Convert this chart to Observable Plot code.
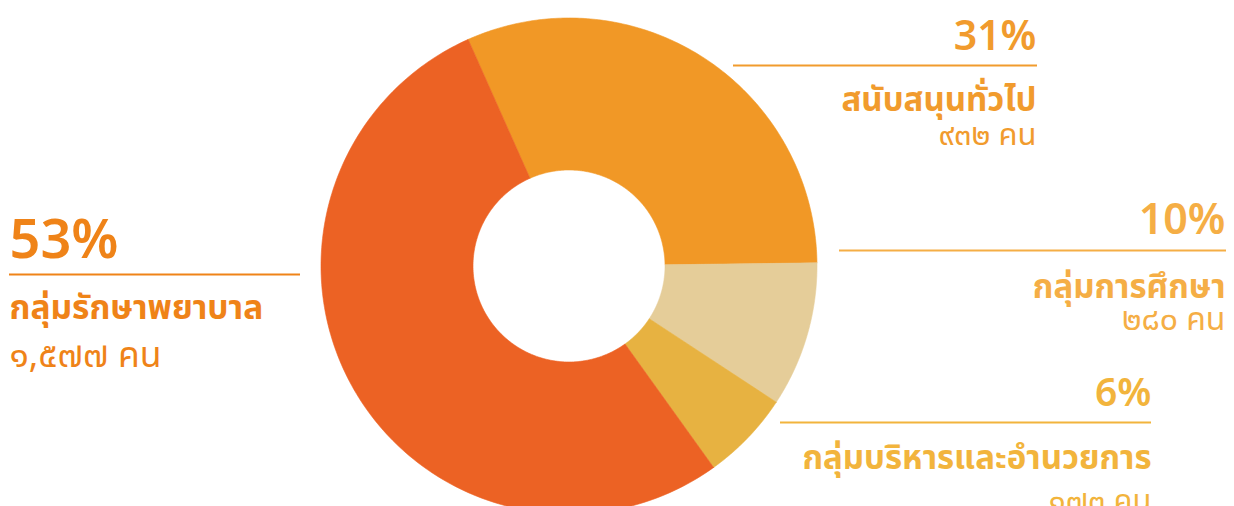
<!DOCTYPE html>
<html>
<head>
<meta charset="utf-8">
<script src="https://cdn.jsdelivr.net/npm/d3@7"></script>
<script src="https://cdn.jsdelivr.net/npm/@observablehq/plot@0.6"></script>
<style>
  html, body { margin: 0; padding: 0; background: #fff; }
  #chart svg { display: block; font-family: "Noto Sans Thai", "Noto Sans", "DejaVu Sans", sans-serif; }
</style>
</head>
<body>
<div id="chart"></div>
<script>
// ---- data ----
const groups = ["สนับสนุนทั่วไป", "กลุ่มการศึกษา", "กลุ่มบริหารและอำนวยการ", "กลุ่มรักษาพยาบาล"];
const counts = [932, 280, 173, 1577];
const percentLabels = ["31%", "10%", "6%", "53%"];
const countLabels = ["๙๓๒ คน", "๒๘๐ คน", "๑๗๓ คน", "๑,๕๗๗ คน"];
const sliceColors = ["#F19826", "#E5CD99", "#E7B241", "#EC6224"];
const labelColors = ["#F19B2D", "#F5AE45", "#F2B43C", "#EF8318"];

// ---- layout ----
const W = 1234, H = 506;
const cx = 568.5, cy = 265.5, R = 248, r = 96;
const startDeg = -24;

const pie = d3.pie().sort(null).value(d => d.count)
  .startAngle(startDeg * Math.PI / 180)
  .endAngle(startDeg * Math.PI / 180 + 2 * Math.PI);
const table = groups.map((g, i) => ({group: g, count: counts[i], pct: percentLabels[i], cnt: countLabels[i]}));
const arcs = pie(table);

const poly = [];
arcs.forEach(a => {
  const n = 180;
  const pts = [];
  for (let k = 0; k <= n; k++) {
    const t = a.startAngle + (a.endAngle - a.startAngle) * k / n;
    pts.push([cx + R * Math.sin(t), cy - R * Math.cos(t)]);
  }
  for (let k = n; k >= 0; k--) {
    const t = a.startAngle + (a.endAngle - a.startAngle) * k / n;
    pts.push([cx + r * Math.sin(t), cy - r * Math.cos(t)]);
  }
  pts.push(pts[0]);
  pts.forEach(p => poly.push({group: a.data.group, x: p[0], y: p[1]}));
});

// label block layout per slice
const blocks = [
  {x: 1036, x1: 733, x2: 1037, yp: 49, yr: 65, yn: 110, yc: 144, sp: 41, sn: 33, sc: 31, anchor: "end"},
  {x: 1225, x1: 839, x2: 1226, yp: 233, yr: 250, yn: 297, yc: 329, sp: 43, sn: 33, sc: 32, anchor: "end"},
  {x: 1151, x1: 780, x2: 1151, yp: 405, yr: 422, yn: 468, yc: 510, sp: 39, sn: 33, sc: 31, anchor: "end"},
  {x: 9, x1: 9, x2: 300, yp: 257, yr: 274, yn: 318, yc: 366, sp: 54, sn: 33.5, sc: 35.5, anchor: "start"}
];
const lab = table.map((d, i) => ({...d, ...blocks[i], color: labelColors[i]}));

const chart = Plot.plot({
  width: W, height: H,
  margin: 0,
  x: {domain: [0, W], range: [0, W], axis: null},
  y: {domain: [0, H], range: [0, H], axis: null},
  color: {domain: groups, range: sliceColors},
  marks: [
    Plot.line(poly, {x: "x", y: "y", z: "group", fill: "group", stroke: "group", strokeWidth: 0.6, curve: "linear"}),
    Plot.ruleY(lab, {y: "yr", x1: "x1", x2: "x2", stroke: d => d.color, strokeWidth: 2}),
    ...lab.map(d => Plot.text([d], {x: "x", y: "yp", text: "pct", fill: d.color, fontSize: d.sp, fontWeight: 600, textAnchor: d.anchor, lineAnchor: "bottom"})),
    ...lab.map(d => Plot.text([d], {x: "x", y: "yn", text: "group", fill: d.color, fontSize: d.sn, fontWeight: 700, textAnchor: d.anchor, lineAnchor: "bottom"})),
    ...lab.map(d => Plot.text([d], {x: "x", y: "yc", text: "cnt", fill: d.color, fontSize: d.sc, fontWeight: 400, textAnchor: d.anchor, lineAnchor: "bottom", letterSpacing: 0.5}))
  ]
});
document.getElementById("chart").appendChild(chart);
</script>
</body>
</html>
